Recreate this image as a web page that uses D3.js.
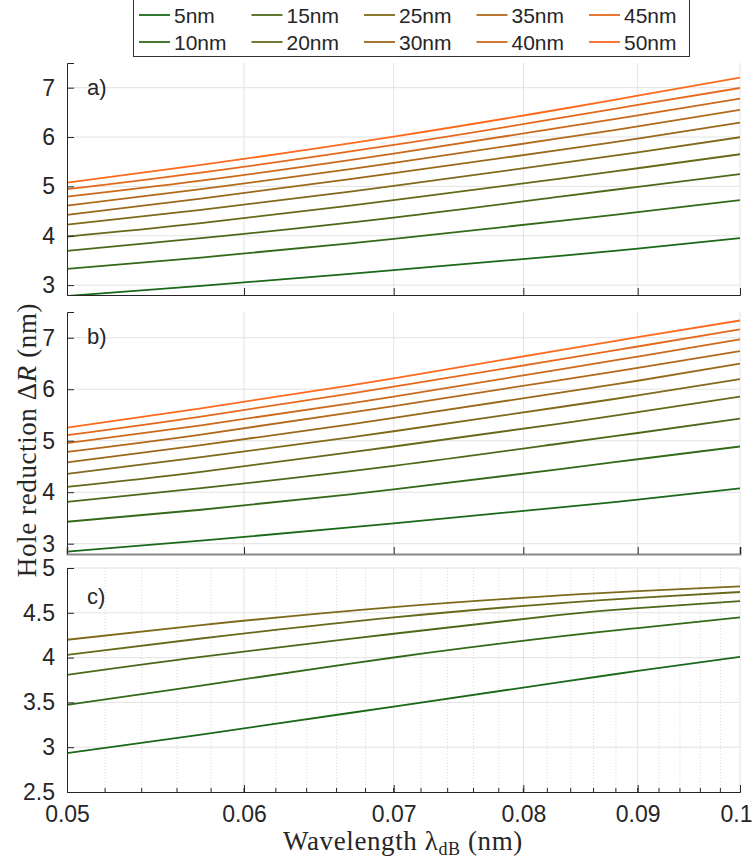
<!DOCTYPE html>
<html lang="en">

<head>
    <meta charset="utf-8">
    <title>Hole reduction</title>
    <script src="https://d3js.org/d3.v7.min.js"></script>
    <style>
        body { margin: 0; background: #fff; }
        text { font-family: "Liberation Sans", Arial, sans-serif; fill: #262626; }
        .serif { font-family: "Liberation Serif", "Times New Roman", serif; }
    </style>
</head>

<body>
    <script type="text/javascript">

        var w = 754;
        var h = 862;

        // wavelengths (nm) where the curves were read
        var lambdas = [0.05, 0.0574, 0.07, 0.0831, 0.09, 0.1];

        var sizesAB = ["5nm", "10nm", "15nm", "20nm", "25nm", "30nm", "35nm", "40nm", "45nm", "50nm"];
        var sizesC = ["5nm", "10nm", "15nm", "20nm", "25nm"];

        var panelA = [
            [2.78, 2.986, 3.304, 3.593, 3.74, 3.951],
            [3.330, 3.559, 3.937, 4.302, 4.478, 4.721],
            [3.694, 3.951, 4.368, 4.793, 4.99, 5.247],
            [3.984, 4.255, 4.721, 5.158, 5.368, 5.652],
            [4.225, 4.524, 5.010, 5.470, 5.69, 5.996],
            [4.423, 4.754, 5.267, 5.739, 5.968, 6.291],
            [4.611, 4.943, 5.476, 5.976, 6.215, 6.549],
            [4.794, 5.117, 5.664, 6.190, 6.44, 6.777],
            [4.943, 5.280, 5.840, 6.387, 6.65, 6.994],
            [5.077, 5.435, 6.008, 6.563, 6.838, 7.202]
        ];

        var panelB = [
            [2.845, 3.058, 3.395, 3.705, 3.855, 4.074],
            [3.426, 3.659, 4.054, 4.448, 4.64, 4.888],
            [3.814, 4.079, 4.512, 4.946, 5.15, 5.430],
            [4.105, 4.395, 4.888, 5.333, 5.555, 5.857],
            [4.357, 4.680, 5.184, 5.655, 5.88, 6.198],
            [4.578, 4.913, 5.442, 5.934, 6.165, 6.496],
            [4.783, 5.120, 5.674, 6.178, 6.415, 6.740],
            [4.952, 5.300, 5.857, 6.386, 6.635, 6.967],
            [5.107, 5.469, 6.050, 6.579, 6.83, 7.161],
            [5.256, 5.630, 6.211, 6.760, 7.01, 7.335]
        ];

        var panelC = [
            [2.933, 3.14, 3.454, 3.726, 3.851, 4.009],
            [3.473, 3.688, 4.001, 4.236, 4.33, 4.448],
            [3.808, 4.009, 4.266, 4.478, 4.552, 4.631],
            [4.031, 4.213, 4.448, 4.609, 4.667, 4.732],
            [4.199, 4.363, 4.564, 4.694, 4.741, 4.794]
        ];

        var xTicks = [0.05, 0.06, 0.07, 0.08, 0.09, 0.1];
        var yTicksAB = [3, 4, 5, 6, 7];
        var yTicksC = [2.5, 3, 3.5, 4, 4.5, 5];

        var left = 67, right = 740;
        var x = d3.scaleLog().domain([0.05, 0.1]).range([left, right]);
        var minorTicks = d3.range(0.052, 0.0999, 0.002);

        var color = function (i) {
            return d3.interpolateRgb("rgb(25,105,25)", "rgb(255,105,28)")(i / 9);
        };

        var svg = d3.select("body")
            .append("svg")
            .attr("width", w)
            .attr("height", h);

        var panels = [
            { label: "a)", data: panelA, dom: [2.8, 7.5], top: 63, bottom: 295, ticks: yTicksAB, minor: false, xlabels: false },
            { label: "b)", data: panelB, dom: [2.8, 7.5], top: 312, bottom: 554, ticks: yTicksAB, minor: false, xlabels: false },
            { label: "c)", data: panelC, dom: [2.5, 5], top: 568, bottom: 792, ticks: yTicksC, minor: true, xlabels: true }
        ];

        panels.forEach(function (p, pi) {
            var y = d3.scaleLinear().domain(p.dom).range([p.bottom, p.top]);
            var g = svg.append("g");

            // grid
            if (p.minor) {
                g.selectAll("line.mgrid")
                    .data(minorTicks.filter(function (t) { return xTicks.every(function (m) { return Math.abs(m - t) > 1e-6; }); }))
                    .enter().append("line")
                    .attr("x1", function (d) { return x(d); })
                    .attr("x2", function (d) { return x(d); })
                    .attr("y1", p.top).attr("y2", p.bottom)
                    .attr("stroke", "#d8d8d8")
                    .attr("stroke-dasharray", "1,2");
            }
            g.selectAll("line.vgrid")
                .data(xTicks.slice(1))
                .enter().append("line")
                .attr("x1", function (d) { return x(d); })
                .attr("x2", function (d) { return x(d); })
                .attr("y1", p.top).attr("y2", p.bottom)
                .attr("stroke", "#e3e3e3");
            g.selectAll("line.hgrid")
                .data(p.ticks.filter(function (t) { return t > p.dom[0]; }))
                .enter().append("line")
                .attr("x1", left).attr("x2", right)
                .attr("y1", function (d) { return y(d); })
                .attr("y2", function (d) { return y(d); })
                .attr("stroke", "#e3e3e3");

            // curves
            var clipId = "clip" + pi;
            svg.append("clipPath").attr("id", clipId)
                .append("rect")
                .attr("x", left).attr("y", p.top)
                .attr("width", right - left).attr("height", p.bottom - p.top);

            var line = d3.line()
                .x(function (d, i) { return x(lambdas[i]); })
                .y(function (d) { return y(d); })
                .curve(d3.curveNatural);

            g.append("g").attr("clip-path", "url(#" + clipId + ")")
                .selectAll("path")
                .data(p.data)
                .enter().append("path")
                .attr("fill", "none")
                .attr("stroke", function (d, i) { return color(i); })
                .attr("stroke-width", 1.8)
                .attr("d", line);

            // axes
            var yAxis = d3.axisLeft(y).tickValues(p.ticks).tickSize(-7).tickPadding(12)
                .tickFormat(function (d) { return d; });
            var ya = g.append("g").attr("transform", "translate(" + left + ",0)").call(yAxis);
            ya.select(".domain").attr("stroke", "#262626");
            ya.selectAll(".tick line").attr("stroke", "#262626");
            ya.selectAll("text").style("font-size", "23px").attr("fill", "#262626");

            var xAxis = d3.axisBottom(x).tickValues(xTicks).tickSize(-7).tickPadding(10)
                .tickFormat(p.xlabels ? function (d) { return d; } : "");
            var xa = g.append("g").attr("transform", "translate(0," + p.bottom + ")").call(xAxis);
            xa.select(".domain").attr("stroke", pi === 1 ? "#888" : "#262626")
                .attr("stroke-width", pi === 1 ? 2 : 1);
            xa.selectAll(".tick line").attr("stroke", "#262626");
            xa.selectAll("text").style("font-size", "23px").attr("fill", "#262626").attr("dy", "0.88em")
                .attr("dx", function (d) { return d === 0.1 ? -4 : 0; });

            if (p.minor) {
                g.selectAll("line.mtick")
                    .data(minorTicks)
                    .enter().append("line")
                    .attr("x1", function (d) { return x(d); })
                    .attr("x2", function (d) { return x(d); })
                    .attr("y1", p.bottom).attr("y2", p.bottom - 4)
                    .attr("stroke", "#262626");
            }

            g.append("text")
                .attr("x", 87)
                .attr("y", p.top + (pi === 2 ? 36 : 32))
                .style("font-size", "22px")
                .text(p.label);
        });

        // legend
        var legend = svg.append("g");
        legend.append("rect")
            .attr("x", 133.5).attr("y", -1)
            .attr("width", 556).attr("height", 57.5)
            .attr("fill", "#fff")
            .attr("stroke", "#333");

        var items = legend.selectAll("g.item")
            .data(sizesAB)
            .enter().append("g")
            .attr("transform", function (d, i) {
                var col = Math.floor(i / 2), row = i % 2;
                return "translate(" + (139 + col * 112.5) + "," + (15 + row * 27) + ")";
            });
        items.append("line")
            .attr("x1", 0).attr("x2", 31)
            .attr("stroke", function (d, i) { return color(i); })
            .attr("stroke-width", 1.8);
        items.append("text")
            .attr("x", 35)
            .attr("dy", "0.36em")
            .style("font-size", "21px")
            .text(function (d) { return d; });

        // axis titles
        var yt = svg.append("text")
            .attr("class", "serif")
            .attr("transform", "translate(36,440) rotate(-90)")
            .attr("text-anchor", "middle")
            .style("font-size", "27px")
            .style("letter-spacing", "0.6px");
        yt.append("tspan").text("Hole reduction \u0394");
        yt.append("tspan").style("font-style", "italic").text("R");
        yt.append("tspan").text(" (nm)");

        var xt = svg.append("text")
            .attr("class", "serif")
            .attr("x", 403)
            .attr("y", 850)
            .attr("text-anchor", "middle")
            .style("font-size", "27px")
            .style("letter-spacing", "0.6px");
        xt.append("tspan").text("Wavelength \u03bb");
        xt.append("tspan").attr("dy", 5).style("font-size", "18px").text("dB");
        xt.append("tspan").attr("dy", -5).text(" (nm)");

    </script>
</body>

</html>
